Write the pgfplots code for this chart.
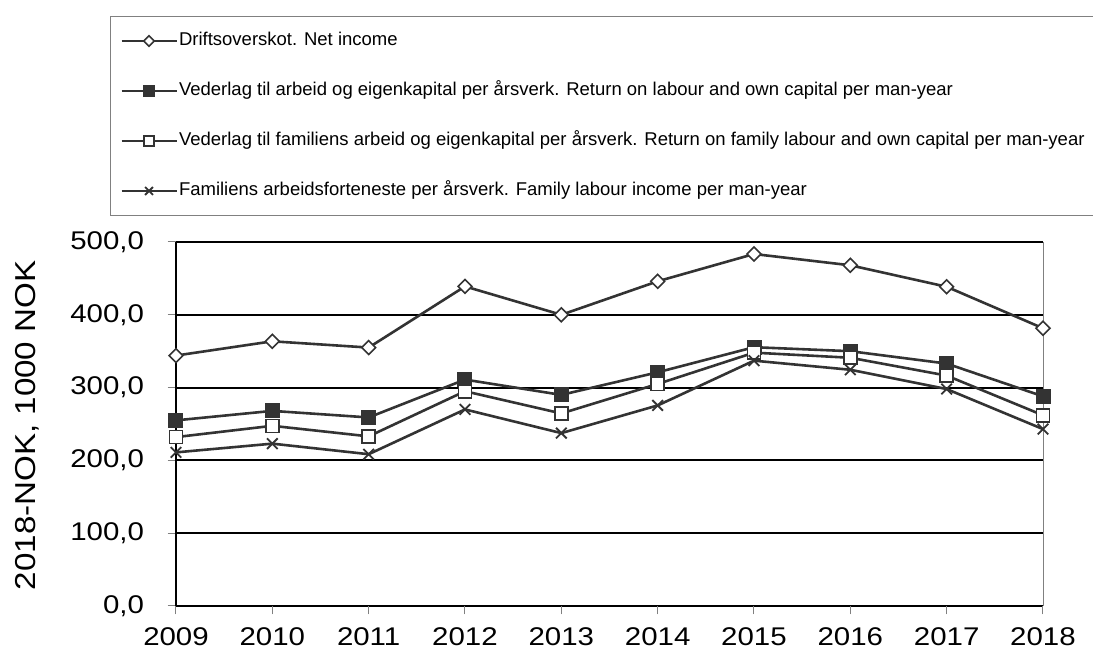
\documentclass[border=0pt]{standalone}
\usepackage{fontspec}
\setmainfont{Liberation Sans}
\newfontfamily\axisfont[FakeStretch=1.15]{Liberation Sans}
\usepackage{pgfplots}
\pgfplotsset{compat=1.18}
\definecolor{ln}{RGB}{51,51,51}
\definecolor{frm}{RGB}{128,128,128}
\begin{document}
\begin{tikzpicture}
\useasboundingbox (-176pt,-47pt) rectangle (917pt,606pt);
\begin{axis}[
  scale only axis, width=867pt, height=364pt,
  xmin=2009, xmax=2018, ymin=0, ymax=500,
  xtick={2009,2010,...,2018}, ytick={0,100,...,500},
  xtick pos=bottom, ytick pos=left,
  axis line style={draw=none},
  tick align=outside, major tick length=8.5pt,
  tick style={frm, line width=1pt},
  ymajorgrids, grid style={black, line width=2pt},
  clip=false,
  /pgf/number format/assume math mode=true,
  ticklabel style={font=\axisfont\fontsize{25.6}{30}\selectfont},
  yticklabel style={/pgf/number format/.cd, fixed, fixed zerofill, precision=1, use comma, 1000 sep={}, /tikz/.cd, xshift=-20pt},
  xticklabel style={/pgf/number format/.cd, 1000 sep={}, /tikz/.cd, yshift=-10pt},
  ylabel={2018-NOK, 1000 NOK},
  ylabel style={font=\axisfont\fontsize{28.8}{32}\selectfont, at={(axis description cs:-0.172,0.496)}, anchor=center},
  legend cell align=left,
  legend style={at={(-0.0761,1.6209)}, anchor=north west, draw=frm, line width=1pt,
    font=\fontsize{18.5}{21}\selectfont, inner xsep=10pt, inner ysep=16pt,
    row sep=33pt, column sep=1.5pt,
    nodes={inner sep=0pt, text height=13pt, text depth=4pt}},
  legend image code/.code={\draw[mark repeat=2, mark phase=2, #1, line width=2pt, every mark/.append style={scale=0.75}] plot coordinates {(0pt,0pt) (27.5pt,0pt) (55pt,0pt)};},
]
\draw[frm, line width=1pt] (rel axis cs:1,0) -- (rel axis cs:1,1);
\draw[black, line width=1.3pt] (rel axis cs:0,0) -- (rel axis cs:0,1);

\addplot[ln, line width=2.6pt, mark=square*, mark size=4.9pt,
  mark options={rotate=45, fill=white, draw=ln, line width=1.6pt}]
  coordinates {(2009,344) (2010,363.6) (2011,355) (2012,439) (2013,400) (2014,446) (2015,483.5) (2016,468) (2017,438.5) (2018,381.5)};
\addlegendentry{Driftsoverskot. Net income}

\addplot[ln, line width=2.6pt, mark=square*, mark size=7pt,
  mark options={fill=ln, draw=ln, line width=1pt}]
  coordinates {(2009,255) (2010,268) (2011,259) (2012,311) (2013,290) (2014,321) (2015,355.5) (2016,350) (2017,333) (2018,288)};
\addlegendentry{Vederlag til arbeid og eigenkapital per årsverk. Return on labour and own capital per man-year}

\addplot[ln, line width=2.6pt, mark=square*, mark size=6.5pt,
  mark options={fill=white, draw=ln, line width=1.6pt}]
  coordinates {(2009,232) (2010,247.5) (2011,233) (2012,295) (2013,264.5) (2014,305) (2015,348) (2016,341) (2017,316.5) (2018,262)};
\addlegendentry{Vederlag til familiens arbeid og eigenkapital per årsverk. Return on family labour and own capital per man-year}

\addplot[ln, line width=2.6pt, mark=x, mark size=7.5pt,
  mark options={draw=ln, line width=1.8pt}]
  coordinates {(2009,211) (2010,223) (2011,208.5) (2012,270) (2013,237.5) (2014,275.5) (2015,337) (2016,324.5) (2017,298) (2018,243)};
\addlegendentry{Familiens arbeidsforteneste per årsverk. Family labour income per man-year}
\end{axis}
\end{tikzpicture}
\end{document}
